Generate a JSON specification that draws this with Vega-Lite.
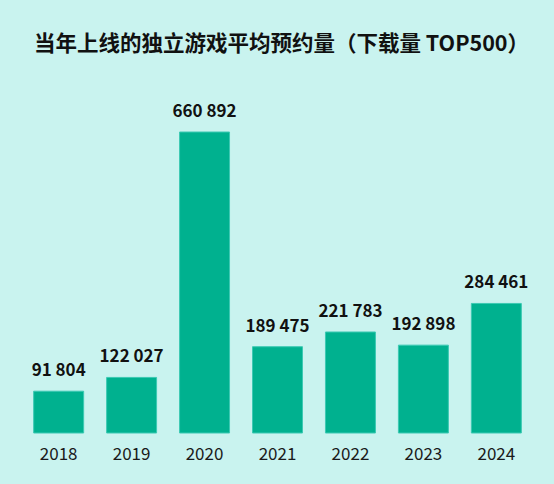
{
  "$schema": "https://vega.github.io/schema/vega-lite/v6.json",
  "autosize": "none",
  "width": 511,
  "height": 301,
  "padding": {"left": 22, "top": 132, "right": 21, "bottom": 51},
  "background": "#c9f3ef",
  "config": {
    "view": {"stroke": null},
    "font": "Noto Sans CJK SC"
  },
  "title": {
    "text": "当年上线的独立游戏平均预约量（下载量 TOP500）",
    "font": "Noto Sans CJK SC",
    "fontSize": 21.5,
    "fontWeight": "bold",
    "color": "#111111",
    "anchor": "middle",
    "dx": 4,
    "offset": 48
  },
  "data": {
    "values": [
      {"year": "2018", "value": 91804, "label": "91 804"},
      {"year": "2019", "value": 122027, "label": "122 027"},
      {"year": "2020", "value": 660892, "label": "660 892"},
      {"year": "2021", "value": 189475, "label": "189 475"},
      {"year": "2022", "value": 221783, "label": "221 783"},
      {"year": "2023", "value": 192898, "label": "192 898"},
      {"year": "2024", "value": 284461, "label": "284 461"}
    ]
  },
  "encoding": {
    "x": {
      "field": "year",
      "type": "nominal",
      "title": null,
      "scale": {"paddingInner": 0.315, "paddingOuter": 0.16},
      "axis": {
        "domain": false,
        "ticks": false,
        "labelAngle": 0,
        "labelPadding": 13,
        "labelFontSize": 17,
        "labelColor": "#1a1a1a",
        "labelFont": "Noto Sans CJK SC"
      }
    },
    "y": {
      "field": "value",
      "type": "quantitative",
      "scale": {"domain": [0, 660892], "nice": false},
      "axis": null
    }
  },
  "layer": [
    {
      "mark": {"type": "bar", "color": "#00b18f", "stroke": "#3cc9b3", "strokeWidth": 1}
    },
    {
      "mark": {
        "type": "text",
        "baseline": "bottom",
        "dy": -11,
        "fontSize": 17,
        "fontWeight": "bold",
        "color": "#111111",
        "font": "Noto Sans CJK SC"
      },
      "encoding": {"text": {"field": "label"}}
    }
  ]
}
